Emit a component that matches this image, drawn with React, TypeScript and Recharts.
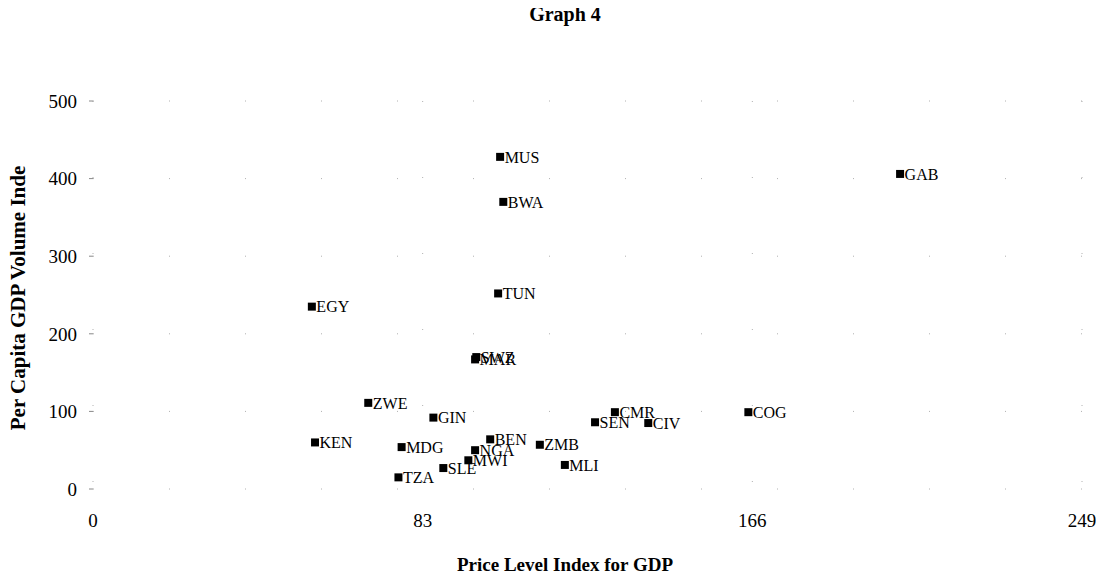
import { ScatterChart, Scatter, XAxis, YAxis, ZAxis, CartesianGrid, LabelList } from 'recharts'

const countries = ['MUS', 'BWA', 'TUN', 'EGY', 'SWZ', 'MAR', 'BEN', 'NGA', 'MWI', 'SLE', 'TZA', 'MDG', 'KEN', 'ZWE', 'GIN', 'ZMB', 'MLI', 'SEN', 'CMR', 'CIV', 'COG', 'GAB']
const priceLevel = [102.5, 103.3, 102.0, 55.1, 96.5, 96.2, 100.0, 96.2, 94.5, 88.2, 76.9, 77.7, 55.9, 69.3, 85.7, 112.5, 118.8, 126.4, 131.4, 139.8, 165.0, 203.2]
const gdpVolume = [428, 370, 252, 235, 170, 167, 64, 50, 37, 27, 15, 54, 60, 111, 92, 57, 31, 86, 99, 85, 99, 406]

const xTicks = [0, 83, 166, 249]
const yTicks = [0, 100, 200, 300, 400, 500]

const points = countries.map((name, i) => ({ name, x: priceLevel[i], y: gdpVolume[i] }))

const FONT = '"Liberation Serif", "Times New Roman", serif'

export default function App() {
  return (
    <div style={{ position: 'relative', width: 1096, height: 569, fontFamily: FONT, color: '#000' }}>
      <div style={{ position: 'absolute', left: 457, width: 200, top: -5, textAlign: 'center', fontWeight: 'bold', fontSize: 20 }}>
        Graph 4
      </div>
      <div
        style={{
          position: 'absolute',
          left: 10,
          top: 290,
          transform: 'translate(-50%, -50%) rotate(-90deg)',
          whiteSpace: 'nowrap',
          fontWeight: 'bold',
          fontSize: 21,
        }}
      >
        Per Capita GDP Volume Inde
      </div>
      <div style={{ position: 'absolute', left: 357, width: 400, top: 546, textAlign: 'center', fontWeight: 'bold', fontSize: 19 }}>
        Price Level Index for GDP
      </div>

      <ScatterChart width={1096} height={569} margin={{ top: 93, right: 22, bottom: 48, left: 0 }}>
        <CartesianGrid stroke="#b0b0b0" strokeDasharray="1 75" />
        <XAxis
          type="number"
          dataKey="x"
          domain={[0, 249]}
          ticks={xTicks}
          axisLine={false}
          tickLine={false}
          tickMargin={19}
          height={40}
          tick={{ fill: '#000', fontSize: 19, fontFamily: FONT }}
        />
        <YAxis
          type="number"
          dataKey="y"
          domain={[0, 500]}
          ticks={yTicks}
          axisLine={false}
          tickSize={4}
          tickMargin={12}
          tickLine={{ stroke: '#888' }}
          width={85}
          tick={{ fill: '#000', fontSize: 19, fontFamily: FONT }}
        />
        <ZAxis range={[90, 90]} />
        <Scatter data={points} fill="#000" shape="square" isAnimationActive={false}>
          <LabelList dataKey="name" position="right" offset={0} fill="#000" fontSize={16} fontFamily={FONT} />
        </Scatter>
      </ScatterChart>
    </div>
  )
}
